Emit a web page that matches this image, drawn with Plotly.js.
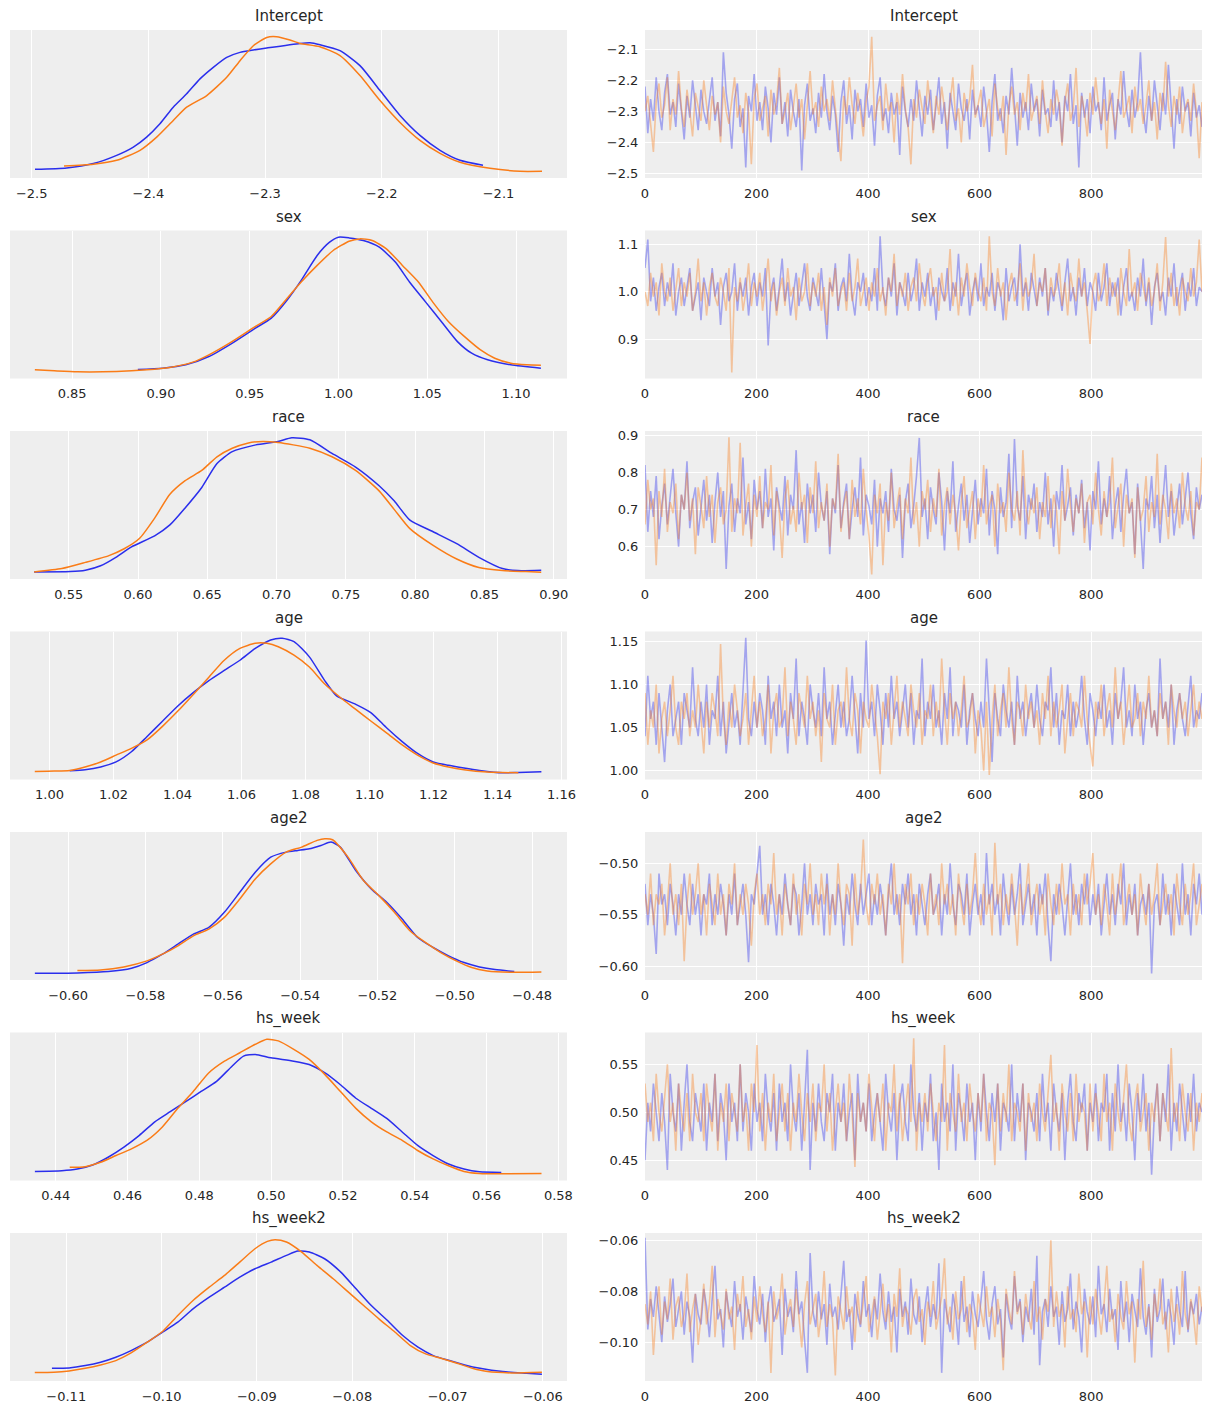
<!DOCTYPE html>
<html>
<head>
<meta charset="utf-8">
<script src="https://cdn.plot.ly/plotly-3.0.1.min.js"></script>
<style>html,body{margin:0;padding:0;background:#fff;}#chart{width:1211px;height:1411px;}</style>
</head>
<body>
<div id="chart"></div>
<script>
// ---------------- DATA ----------------
const params = ["Intercept", "sex", "race", "age", "age2", "hs_week", "hs_week2"];
const nDraws = 1000; // draws per chain (0..999); values below are read at thinned positions

// KDE curves (x, relative density); chain 0 = blue, chain 1 = orange
const interceptKdeX0 = [-2.4972,-2.4700,-2.4472,-2.4272,-2.4129,-2.4015,-2.3901,-2.3787,-2.3672,-2.3558,-2.3444,-2.3329,-2.3215,-2.3101,-2.2986,-2.2701,-2.2615,-2.2530,-2.2358,-2.2187,-2.2015,-2.1844,-2.1673,-2.1501,-2.1330,-2.1133];
const interceptKdeY0 = [6,7.3,11.7,20,28.3,38.3,51.7,68.3,81.7,96.7,108.3,118.3,123.3,125.7,127.7,132.3,133,131,125,110,85,60,40,25,15,10];
const interceptKdeX1 = [-2.4723,-2.4472,-2.4272,-2.4072,-2.3929,-2.3787,-2.3672,-2.3500,-2.3329,-2.3215,-2.3101,-2.2986,-2.2901,-2.2787,-2.2701,-2.2530,-2.2358,-2.2187,-2.2015,-2.1844,-2.1673,-2.1501,-2.1330,-2.1073,-2.0816,-2.0627];
const interceptKdeY1 = [9.3,11,15,25,38.3,55,68.3,80,98.3,115,130,138.3,139,135.7,132.3,129,120,100,75,53,35,22,13,7,4,4];

const sexKdeX0 = [0.887,0.901,0.914,0.927,0.940,0.953,0.962,0.971,0.979,0.988,0.995,1.000,1.006,1.014,1.023,1.032,1.040,1.049,1.058,1.067,1.075,1.084,1.097,1.114];
const sexKdeY0 = [26,30,40,65,105,150,180,235,295,370,410,425,423,415,395,350,290,230,170,110,75,55,40,30];
const sexKdeX1 = [0.829,0.840,0.853,0.875,0.892,0.905,0.918,0.927,0.940,0.953,0.962,0.971,0.979,0.988,0.997,1.006,1.012,1.019,1.027,1.036,1.045,1.053,1.062,1.071,1.080,1.088,1.097,1.106,1.114];
const sexKdeY1 = [25,22,19,20,25,32,48,70,110,155,185,240,290,340,385,413,420,415,390,340,290,230,170,125,85,60,45,40,39];

const raceKdeX0 = [0.525,0.551,0.562,0.573,0.584,0.595,0.612,0.623,0.634,0.646,0.657,0.668,0.685,0.701,0.711,0.724,0.740,0.757,0.774,0.785,0.796,0.813,0.830,0.846,0.863,0.874,0.891];
const raceKdeY0 = [32,33,37,50,75,105,138,170,220,280,350,385,405,415,426,420,380,340,285,240,185,150,115,75,42,36,37];
const raceKdeX1 = [0.525,0.545,0.562,0.579,0.590,0.601,0.612,0.623,0.634,0.646,0.657,0.668,0.679,0.690,0.701,0.712,0.724,0.740,0.757,0.774,0.785,0.796,0.813,0.830,0.846,0.863,0.880,0.891];
const raceKdeY1 = [32,42,60,80,100,130,190,260,300,330,370,395,410,415,412,405,395,370,330,270,215,160,110,70,45,36,33,31];

const ageKdeX0 = [1.0063,1.0111,1.0160,1.0208,1.0256,1.0305,1.0353,1.0401,1.0450,1.0498,1.0546,1.0595,1.0643,1.0691,1.0727,1.0764,1.0812,1.0860,1.0897,1.0957,1.1005,1.1054,1.1102,1.1150,1.1199,1.1247,1.1295,1.1344,1.1416,1.1465,1.1537];
const ageKdeY0 = [34,37,45,60,90,135,180,225,265,300,330,360,395,420,425,415,370,300,255,230,205,160,120,85,60,50,42,35,28,29,31];
const ageKdeX1 = [0.9954,1.0015,1.0063,1.0111,1.0160,1.0208,1.0256,1.0305,1.0353,1.0401,1.0450,1.0498,1.0546,1.0595,1.0643,1.0679,1.0715,1.0764,1.0812,1.0860,1.0909,1.0957,1.1005,1.1054,1.1102,1.1150,1.1199,1.1247,1.1295,1.1368,1.1465];
const ageKdeY1 = [32,33,35,45,60,80,100,125,165,210,260,310,360,395,410,410,400,375,340,290,250,215,180,145,110,80,57,45,37,30,28];

const age2KdeX0 = [-0.6086,-0.5976,-0.5896,-0.5836,-0.5796,-0.5756,-0.5716,-0.5676,-0.5636,-0.5596,-0.5556,-0.5516,-0.5476,-0.5436,-0.5406,-0.5376,-0.5346,-0.5320,-0.5296,-0.5256,-0.5216,-0.5176,-0.5136,-0.5096,-0.5056,-0.5016,-0.4976,-0.4936,-0.4896,-0.4846];
const age2KdeY0 = [23,24,28,38,55,80,110,140,160,205,265,325,370,385,390,395,405,415,400,330,275,235,185,130,100,75,55,42,34,28];
const age2KdeX1 = [-0.5976,-0.5916,-0.5856,-0.5796,-0.5756,-0.5716,-0.5676,-0.5636,-0.5596,-0.5556,-0.5516,-0.5476,-0.5436,-0.5396,-0.5356,-0.5336,-0.5316,-0.5276,-0.5236,-0.5196,-0.5156,-0.5116,-0.5076,-0.5036,-0.4996,-0.4956,-0.4916,-0.4856,-0.4776];
const age2KdeY1 = [31,33,42,60,80,105,135,155,190,245,305,350,385,400,420,425,422,370,300,255,205,150,115,85,60,40,30,26,27];

const hsWeekKdeX0 = [0.4342,0.4417,0.4460,0.4503,0.4546,0.4590,0.4633,0.4676,0.4719,0.4762,0.4805,0.4848,0.4891,0.4923,0.4956,0.4999,0.5063,0.5106,0.5150,0.5193,0.5236,0.5279,0.5322,0.5365,0.5408,0.5451,0.5494,0.5537,0.5580,0.5641];
const hsWeekKdeY0 = [33,35,40,52,75,105,140,180,210,240,270,300,345,375,380,370,360,350,325,290,250,220,190,150,110,80,55,40,32,30];
const hsWeekKdeX1 = [0.4439,0.4482,0.4525,0.4568,0.4611,0.4654,0.4697,0.4740,0.4783,0.4826,0.4870,0.4913,0.4956,0.4988,0.5020,0.5063,0.5106,0.5150,0.5193,0.5236,0.5279,0.5322,0.5365,0.5408,0.5451,0.5494,0.5537,0.5580,0.5645,0.5753];
const hsWeekKdeY1 = [45,47,60,80,100,125,165,220,270,325,360,385,410,425,420,395,365,320,270,220,180,150,125,95,70,50,33,27,26,27];

const hsWeek2KdeX0 = [-0.1115,-0.1097,-0.1080,-0.1064,-0.1048,-0.1032,-0.1015,-0.0999,-0.0983,-0.0967,-0.0950,-0.0934,-0.0918,-0.0902,-0.0885,-0.0869,-0.0857,-0.0845,-0.0829,-0.0812,-0.0796,-0.0780,-0.0763,-0.0747,-0.0731,-0.0715,-0.0698,-0.0682,-0.0666,-0.0642,-0.0617,-0.0601];
const hsWeek2KdeY0 = [42,43,50,60,75,95,120,150,180,220,255,285,315,340,360,380,393,390,370,330,280,230,185,140,105,80,65,52,42,32,27,24];
const hsWeek2KdeX1 = [-0.1133,-0.1113,-0.1097,-0.1080,-0.1064,-0.1048,-0.1032,-0.1015,-0.0999,-0.0983,-0.0967,-0.0950,-0.0934,-0.0918,-0.0902,-0.0889,-0.0881,-0.0869,-0.0853,-0.0837,-0.0820,-0.0804,-0.0788,-0.0772,-0.0755,-0.0739,-0.0723,-0.0707,-0.0690,-0.0674,-0.0658,-0.0633,-0.0601];
const hsWeek2KdeY1 = [29,30,34,42,52,65,88,120,152,200,245,285,320,360,400,422,427,420,390,350,310,270,230,190,150,110,85,72,57,42,32,28,30];

// Trace values (thinned, evenly spaced over draws 0..999); chain 0 = blue, chain 1 = orange
const intercept0 = [-2.22,-2.37,-2.26,-2.33,-2.19,-2.30,-2.36,-2.24,-2.18,-2.31,-2.27,-2.35,-2.21,-2.29,-2.39,-2.25,-2.32,-2.20,-2.28,-2.36,
-2.23,-2.30,-2.34,-2.26,-2.19,-2.33,-2.27,-2.38,-2.11,-2.24,-2.31,-2.42,-2.26,-2.21,-2.35,-2.29,-2.48,-2.25,-2.30,-2.18,
-2.33,-2.27,-2.36,-2.22,-2.29,-2.40,-2.24,-2.31,-2.19,-2.34,-2.27,-2.38,-2.23,-2.30,-2.35,-2.26,-2.49,-2.28,-2.21,-2.33,
-2.29,-2.37,-2.24,-2.32,-2.18,-2.30,-2.36,-2.25,-2.31,-2.43,-2.27,-2.20,-2.34,-2.28,-2.39,-2.23,-2.30,-2.26,-2.35,-2.21,
-2.32,-2.28,-2.41,-2.25,-2.19,-2.33,-2.29,-2.37,-2.24,-2.31,-2.27,-2.44,-2.22,-2.30,-2.35,-2.26,-2.33,-2.20,-2.29,-2.38,
-2.25,-2.31,-2.23,-2.36,-2.28,-2.19,-2.34,-2.27,-2.42,-2.24,-2.30,-2.36,-2.21,-2.29,-2.33,-2.26,-2.39,-2.23,-2.31,-2.28,
-2.35,-2.22,-2.30,-2.43,-2.27,-2.18,-2.33,-2.29,-2.37,-2.25,-2.31,-2.16,-2.28,-2.41,-2.24,-2.32,-2.27,-2.36,-2.21,-2.30,
-2.26,-2.38,-2.23,-2.31,-2.29,-2.35,-2.20,-2.33,-2.27,-2.40,-2.25,-2.30,-2.18,-2.34,-2.28,-2.48,-2.24,-2.32,-2.26,-2.37,
-2.22,-2.30,-2.27,-2.36,-2.19,-2.33,-2.28,-2.24,-2.39,-2.26,-2.31,-2.17,-2.29,-2.35,-2.23,-2.32,-2.27,-2.11,-2.30,-2.37,
-2.25,-2.33,-2.20,-2.28,-2.36,-2.24,-2.31,-2.15,-2.29,-2.42,-2.26,-2.34,-2.22,-2.30,-2.27,-2.38,-2.24,-2.32,-2.28,-2.35];
const intercept1 = [-2.30,-2.25,-2.34,-2.43,-2.27,-2.21,-2.32,-2.28,-2.19,-2.36,-2.26,-2.31,-2.17,-2.29,-2.35,-2.23,-2.30,-2.38,-2.24,-2.28,
-2.33,-2.20,-2.29,-2.36,-2.25,-2.31,-2.27,-2.40,-2.22,-2.30,-2.34,-2.26,-2.19,-2.32,-2.28,-2.37,-2.24,-2.30,-2.47,-2.26,
-2.21,-2.33,-2.29,-2.25,-2.38,-2.23,-2.31,-2.27,-2.16,-2.34,-2.30,-2.24,-2.36,-2.28,-2.21,-2.32,-2.26,-2.39,-2.29,-2.17,
-2.31,-2.27,-2.35,-2.22,-2.30,-2.26,-2.33,-2.20,-2.29,-2.37,-2.46,-2.25,-2.31,-2.19,-2.28,-2.34,-2.24,-2.30,-2.38,-2.27,
-2.22,-2.06,-2.33,-2.28,-2.25,-2.36,-2.21,-2.30,-2.27,-2.40,-2.24,-2.31,-2.18,-2.29,-2.35,-2.47,-2.26,-2.32,-2.23,-2.29,
-2.34,-2.20,-2.28,-2.37,-2.25,-2.31,-2.22,-2.30,-2.36,-2.27,-2.19,-2.33,-2.29,-2.40,-2.24,-2.30,-2.26,-2.15,-2.32,-2.28,
-2.23,-2.35,-2.30,-2.26,-2.38,-2.21,-2.29,-2.33,-2.25,-2.44,-2.28,-2.22,-2.31,-2.27,-2.36,-2.24,-2.30,-2.18,-2.33,-2.29,
-2.25,-2.34,-2.20,-2.30,-2.37,-2.26,-2.31,-2.23,-2.28,-2.41,-2.27,-2.21,-2.33,-2.29,-2.16,-2.35,-2.25,-2.30,-2.38,-2.24,
-2.31,-2.19,-2.28,-2.34,-2.26,-2.42,-2.23,-2.30,-2.36,-2.27,-2.17,-2.32,-2.29,-2.25,-2.37,-2.22,-2.30,-2.26,-2.34,-2.28,
-2.20,-2.33,-2.27,-2.39,-2.24,-2.30,-2.14,-2.28,-2.35,-2.25,-2.31,-2.22,-2.37,-2.29,-2.26,-2.33,-2.21,-2.30,-2.45,-2.27];

const sex0 = [1.05,1.11,0.98,1.03,0.96,1.01,1.04,0.97,1.02,0.99,1.06,0.95,1.00,1.03,0.97,1.01,1.05,0.96,0.99,1.02,
0.94,1.03,1.00,0.97,1.05,0.99,1.02,0.93,1.01,1.04,0.98,1.00,1.06,0.96,1.02,0.99,1.03,0.95,1.01,1.04,
0.97,1.02,0.99,1.05,0.887,1.00,1.03,0.96,1.01,1.07,0.98,1.02,0.95,1.00,1.04,0.97,1.01,1.06,0.99,0.96,
1.03,1.00,0.97,1.05,0.98,0.90,1.02,1.00,1.06,0.96,1.01,1.03,0.98,1.08,0.99,0.95,1.02,1.00,1.04,0.97,
1.01,0.98,1.05,0.96,1.117,1.00,0.97,1.03,0.99,1.06,0.95,1.02,1.00,0.97,1.04,0.98,1.01,1.07,0.96,1.02,
0.99,1.04,0.97,1.01,0.94,1.03,1.00,0.98,1.05,0.96,1.02,0.99,1.08,0.97,1.01,1.04,0.95,1.00,1.03,0.98,
1.06,0.97,1.01,0.99,1.04,0.96,1.02,1.00,0.94,1.05,0.98,1.01,1.03,0.97,1.10,0.99,1.02,0.96,1.04,1.00,
0.97,1.03,0.99,1.05,0.95,1.01,0.98,1.04,1.00,0.96,1.02,1.07,0.98,1.01,0.95,1.03,0.99,1.05,0.97,1.02,
1.00,0.96,1.04,0.98,1.01,1.06,0.97,1.02,0.99,1.03,0.95,1.01,1.05,0.98,1.00,0.96,1.03,0.99,1.07,0.97,
1.02,0.93,1.01,1.04,0.98,1.00,0.95,1.03,0.99,1.06,0.97,1.01,1.04,0.96,1.02,0.99,1.05,0.97,1.01,1.00];
const sex1 = [1.00,0.97,1.04,0.99,1.02,0.95,1.06,1.00,0.98,1.03,0.96,1.01,1.05,0.97,1.02,0.99,1.04,0.96,1.00,1.07,
0.98,1.02,0.95,1.01,1.04,0.99,0.97,1.03,1.00,0.96,1.05,0.83,1.01,0.98,1.03,0.96,1.00,1.06,0.97,1.02,
0.99,1.04,0.96,1.01,1.07,0.98,1.02,0.95,1.00,1.03,0.97,1.05,0.99,1.01,0.94,1.03,0.98,1.00,1.06,0.97,
1.02,0.99,1.04,0.96,1.01,0.93,1.03,0.99,1.05,0.97,1.00,1.02,0.96,1.04,0.98,1.01,1.07,0.97,1.00,1.03,
0.96,1.02,0.99,1.05,0.98,1.01,0.95,1.03,1.00,1.08,0.97,1.02,0.99,1.04,0.96,1.01,1.03,0.98,1.06,1.00,
0.97,1.02,1.05,0.99,1.01,0.96,1.04,0.98,1.00,1.09,0.97,1.02,0.95,1.03,0.99,1.06,1.01,0.97,1.04,1.00,
0.98,1.03,0.96,1.117,1.00,0.97,1.05,0.99,1.02,0.94,1.01,1.04,0.98,1.00,1.06,0.96,1.03,0.99,1.01,1.08,
0.97,1.02,1.00,1.05,0.96,1.03,0.99,1.01,1.06,0.97,1.02,0.95,1.04,1.00,0.98,1.07,0.99,1.02,0.96,0.89,
1.01,1.04,0.98,1.00,1.06,0.97,1.03,0.99,1.02,0.95,1.05,1.00,0.97,1.09,0.99,1.02,0.96,1.04,1.01,0.98,
1.03,0.97,1.00,1.06,0.96,1.02,1.115,0.99,1.04,0.97,1.01,0.95,1.03,1.00,0.98,1.05,0.99,1.02,1.11,1.00];

const race0 = [0.82,0.64,0.75,0.68,0.79,0.62,0.71,0.77,0.66,0.73,0.81,0.69,0.60,0.74,0.70,0.83,0.65,0.72,0.76,0.63,
0.70,0.78,0.67,0.74,0.61,0.72,0.80,0.68,0.75,0.54,0.71,0.77,0.64,0.73,0.69,0.84,0.66,0.72,0.62,0.78,
0.70,0.75,0.65,0.81,0.68,0.73,0.59,0.76,0.71,0.67,0.79,0.63,0.74,0.70,0.86,0.66,0.72,0.61,0.77,0.69,
0.74,0.64,0.80,0.71,0.67,0.75,0.58,0.73,0.69,0.82,0.65,0.72,0.77,0.62,0.70,0.76,0.68,0.84,0.63,0.74,
0.71,0.66,0.78,0.60,0.73,0.69,0.75,0.64,0.81,0.70,0.67,0.74,0.57,0.72,0.77,0.65,0.71,0.79,0.893,0.68,
0.73,0.62,0.76,0.70,0.66,0.80,0.72,0.59,0.75,0.69,0.83,0.64,0.71,0.77,0.67,0.74,0.61,0.70,0.78,0.66,
0.73,0.69,0.81,0.63,0.75,0.70,0.58,0.76,0.68,0.72,0.85,0.65,0.89,0.71,0.67,0.79,0.62,0.74,0.70,0.77,
0.64,0.72,0.68,0.80,0.66,0.73,0.60,0.75,0.70,0.82,0.67,0.71,0.76,0.63,0.74,0.69,0.78,0.65,0.72,0.59,
0.75,0.70,0.83,0.66,0.73,0.68,0.79,0.62,0.71,0.76,0.64,0.74,0.81,0.69,0.72,0.58,0.77,0.67,0.54,0.73,
0.70,0.79,0.65,0.74,0.61,0.72,0.82,0.68,0.75,0.63,0.71,0.77,0.66,0.73,0.80,0.69,0.62,0.76,0.70,0.74];
const race1 = [0.66,0.78,0.70,0.73,0.55,0.75,0.68,0.81,0.64,0.72,0.69,0.77,0.62,0.74,0.70,0.80,0.67,0.73,0.58,0.76,
0.71,0.65,0.79,0.68,0.74,0.61,0.72,0.76,0.66,0.70,0.895,0.64,0.73,0.69,0.88,0.63,0.71,0.77,0.60,0.74,
0.68,0.79,0.65,0.72,0.70,0.82,0.63,0.75,0.69,0.57,0.73,0.78,0.66,0.71,0.64,0.80,0.70,0.74,0.61,0.76,
0.69,0.83,0.65,0.72,0.67,0.77,0.60,0.73,0.70,0.85,0.64,0.71,0.75,0.62,0.78,0.68,0.73,0.66,0.81,0.70,
0.63,0.525,0.74,0.69,0.77,0.55,0.72,0.67,0.80,0.65,0.71,0.76,0.62,0.73,0.69,0.84,0.66,0.72,0.60,0.75,
0.70,0.78,0.64,0.73,0.68,0.81,0.63,0.71,0.76,0.66,0.74,0.69,0.59,0.72,0.79,0.65,0.70,0.75,0.62,0.73,
0.68,0.82,0.66,0.71,0.74,0.60,0.77,0.69,0.72,0.64,0.80,0.70,0.67,0.75,0.63,0.86,0.71,0.66,0.73,0.69,
0.76,0.62,0.72,0.68,0.79,0.65,0.74,0.70,0.58,0.75,0.67,0.81,0.71,0.64,0.73,0.69,0.77,0.61,0.72,0.74,
0.66,0.80,0.70,0.63,0.75,0.68,0.72,0.84,0.65,0.71,0.77,0.60,0.74,0.69,0.73,0.57,0.76,0.67,0.70,0.79,
0.64,0.72,0.68,0.85,0.66,0.74,0.70,0.62,0.77,0.69,0.73,0.65,0.80,0.71,0.67,0.75,0.63,0.72,0.70,0.84];

const age0 = [1.04,1.11,1.06,1.08,1.03,1.09,1.05,1.01,1.07,1.10,1.04,1.06,1.08,1.03,1.09,1.07,1.05,1.12,1.06,1.04,
1.08,1.05,1.10,1.03,1.07,1.06,1.11,1.04,1.08,1.02,1.06,1.09,1.05,1.07,1.03,1.10,1.154,1.06,1.04,1.08,
1.05,1.09,1.07,1.03,1.11,1.06,1.08,1.04,1.10,1.05,1.07,1.02,1.09,1.06,1.13,1.04,1.08,1.06,1.03,1.10,
1.07,1.05,1.09,1.04,1.12,1.06,1.08,1.03,1.07,1.10,1.05,1.08,1.04,1.06,1.11,1.07,1.02,1.09,1.05,1.151,
1.06,1.08,1.04,1.10,1.07,1.03,1.09,1.05,1.11,1.06,1.08,1.04,1.07,1.10,1.05,1.09,1.03,1.07,1.06,1.13,
1.04,1.08,1.06,1.10,1.05,1.07,1.03,1.09,1.06,1.12,1.04,1.08,1.07,1.05,1.10,1.03,1.07,1.09,1.06,1.04,
1.08,1.05,1.13,1.07,1.01,1.09,1.06,1.04,1.10,1.07,1.05,1.08,1.03,1.11,1.06,1.08,1.04,1.07,1.09,1.05,
1.10,1.06,1.04,1.08,1.07,1.12,1.05,1.09,1.03,1.07,1.06,1.10,1.04,1.08,1.05,1.07,1.11,1.06,1.03,1.09,
1.07,1.04,1.08,1.06,1.10,1.05,1.07,1.03,1.09,1.06,1.08,1.12,1.05,1.07,1.04,1.10,1.06,1.08,1.03,1.07,
1.09,1.05,1.07,1.04,1.13,1.06,1.08,1.05,1.10,1.03,1.07,1.09,1.06,1.04,1.08,1.11,1.05,1.07,1.06,1.09];
const age1 = [1.09,1.03,1.07,1.05,1.10,1.02,1.06,1.08,1.04,1.07,1.11,1.05,1.03,1.08,1.06,1.09,1.04,1.07,1.05,1.10,
1.06,1.02,1.08,1.05,1.09,1.07,1.04,1.147,1.06,1.03,1.08,1.05,1.10,1.07,1.04,1.06,1.09,1.03,1.07,1.11,
1.05,1.08,1.04,1.06,1.10,1.02,1.07,1.09,1.05,1.06,1.12,1.04,1.08,1.06,1.03,1.09,1.07,1.05,1.11,1.06,
1.08,1.04,1.07,1.01,1.09,1.06,1.05,1.10,1.03,1.07,1.08,1.05,1.12,1.06,1.04,1.09,1.07,1.02,1.08,1.06,
1.05,1.10,1.07,1.04,0.996,1.08,1.06,1.09,1.03,1.07,1.11,1.05,1.08,1.06,1.04,1.10,1.07,1.05,1.09,1.03,
1.07,1.06,1.10,1.04,1.08,1.05,1.13,1.07,1.03,1.09,1.06,1.08,1.04,1.07,1.11,1.05,1.06,1.09,1.02,1.07,
1.05,1.00,1.08,0.995,1.06,1.10,1.04,1.07,1.09,1.05,1.12,1.06,1.03,1.08,1.07,1.04,1.10,1.06,1.08,1.05,
1.07,1.03,1.09,1.06,1.11,1.04,1.08,1.05,1.07,1.10,1.02,1.06,1.09,1.04,1.08,1.07,1.05,1.11,1.06,1.03,
1.005,1.08,1.06,1.10,1.04,1.07,1.09,1.05,1.12,1.06,1.08,1.03,1.07,1.10,1.05,1.06,1.09,1.04,1.08,1.06,
1.11,1.05,1.07,1.04,1.09,1.06,1.08,1.03,1.10,1.07,1.05,1.09,1.06,1.08,1.04,1.07,1.10,1.05,1.08,1.06];

const age2_0 = [-0.52,-0.56,-0.53,-0.55,-0.588,-0.51,-0.54,-0.53,-0.56,-0.52,-0.54,-0.57,-0.53,-0.55,-0.51,-0.54,-0.56,-0.52,-0.55,-0.53,
-0.57,-0.53,-0.54,-0.51,-0.56,-0.53,-0.55,-0.52,-0.54,-0.57,-0.53,-0.55,-0.51,-0.56,-0.54,-0.52,-0.55,-0.596,-0.53,-0.54,
-0.51,-0.483,-0.55,-0.53,-0.56,-0.52,-0.54,-0.57,-0.53,-0.55,-0.51,-0.54,-0.56,-0.52,-0.53,-0.57,-0.54,-0.50,-0.55,-0.53,
-0.56,-0.52,-0.54,-0.53,-0.57,-0.51,-0.55,-0.53,-0.56,-0.52,-0.54,-0.58,-0.53,-0.55,-0.51,-0.54,-0.56,-0.52,-0.55,-0.53,
-0.51,-0.56,-0.53,-0.55,-0.52,-0.54,-0.57,-0.53,-0.50,-0.55,-0.53,-0.56,-0.52,-0.54,-0.51,-0.55,-0.53,-0.57,-0.52,-0.54,
-0.56,-0.53,-0.51,-0.55,-0.54,-0.52,-0.57,-0.53,-0.55,-0.50,-0.54,-0.56,-0.52,-0.53,-0.55,-0.51,-0.57,-0.54,-0.52,-0.55,
-0.53,-0.56,-0.49,-0.54,-0.52,-0.55,-0.53,-0.57,-0.51,-0.54,-0.56,-0.52,-0.55,-0.53,-0.50,-0.56,-0.54,-0.52,-0.55,-0.53,
-0.57,-0.52,-0.54,-0.51,-0.56,-0.595,-0.53,-0.55,-0.52,-0.54,-0.57,-0.53,-0.50,-0.55,-0.53,-0.56,-0.52,-0.54,-0.51,-0.56,
-0.53,-0.55,-0.52,-0.57,-0.54,-0.51,-0.55,-0.53,-0.56,-0.52,-0.54,-0.50,-0.56,-0.53,-0.55,-0.52,-0.57,-0.54,-0.53,-0.55,
-0.52,-0.607,-0.54,-0.53,-0.56,-0.51,-0.55,-0.53,-0.57,-0.52,-0.54,-0.56,-0.50,-0.55,-0.53,-0.57,-0.52,-0.54,-0.51,-0.55];
const age2_1 = [-0.53,-0.55,-0.51,-0.56,-0.53,-0.54,-0.52,-0.57,-0.54,-0.50,-0.55,-0.53,-0.56,-0.52,-0.595,-0.54,-0.51,-0.55,-0.53,-0.50,
-0.55,-0.53,-0.57,-0.52,-0.54,-0.56,-0.51,-0.55,-0.53,-0.57,-0.52,-0.54,-0.50,-0.56,-0.53,-0.55,-0.52,-0.54,-0.58,-0.53,
-0.51,-0.55,-0.53,-0.56,-0.52,-0.54,-0.49,-0.55,-0.53,-0.57,-0.52,-0.54,-0.56,-0.51,-0.55,-0.53,-0.57,-0.52,-0.54,-0.50,
-0.55,-0.53,-0.56,-0.51,-0.54,-0.52,-0.57,-0.53,-0.55,-0.50,-0.54,-0.56,-0.52,-0.53,-0.58,-0.51,-0.55,-0.53,-0.477,-0.54,
-0.56,-0.52,-0.54,-0.51,-0.55,-0.53,-0.57,-0.52,-0.54,-0.50,-0.55,-0.53,-0.597,-0.52,-0.54,-0.51,-0.56,-0.53,-0.55,-0.52,
-0.54,-0.57,-0.51,-0.55,-0.53,-0.56,-0.50,-0.54,-0.52,-0.55,-0.53,-0.57,-0.51,-0.54,-0.56,-0.52,-0.55,-0.53,-0.49,-0.54,
-0.56,-0.52,-0.55,-0.53,-0.57,-0.48,-0.54,-0.52,-0.56,-0.53,-0.55,-0.51,-0.54,-0.58,-0.52,-0.55,-0.53,-0.50,-0.56,-0.54,
-0.52,-0.55,-0.53,-0.57,-0.51,-0.54,-0.56,-0.52,-0.55,-0.50,-0.54,-0.53,-0.57,-0.52,-0.55,-0.53,-0.56,-0.51,-0.54,-0.52,
-0.49,-0.55,-0.53,-0.56,-0.52,-0.54,-0.57,-0.51,-0.55,-0.53,-0.50,-0.56,-0.54,-0.52,-0.55,-0.53,-0.57,-0.51,-0.54,-0.56,
-0.52,-0.55,-0.53,-0.50,-0.56,-0.54,-0.52,-0.55,-0.53,-0.57,-0.51,-0.54,-0.56,-0.52,-0.55,-0.53,-0.50,-0.56,-0.54,-0.52];

const hsWeek0 = [0.45,0.51,0.48,0.53,0.50,0.47,0.52,0.49,0.44,0.54,0.50,0.48,0.53,0.46,0.51,0.55,0.49,0.47,0.52,0.50,
0.48,0.53,0.46,0.51,0.49,0.54,0.47,0.52,0.50,0.45,0.53,0.49,0.51,0.47,0.55,0.48,0.52,0.50,0.46,0.53,
0.49,0.51,0.47,0.54,0.50,0.48,0.52,0.46,0.53,0.49,0.51,0.47,0.55,0.50,0.48,0.52,0.46,0.51,0.565,0.44,
0.51,0.48,0.53,0.49,0.47,0.52,0.50,0.54,0.46,0.51,0.49,0.53,0.47,0.50,0.52,0.45,0.54,0.49,0.51,0.48,
0.53,0.47,0.50,0.52,0.49,0.46,0.54,0.50,0.48,0.52,0.45,0.51,0.53,0.49,0.47,0.55,0.50,0.48,0.52,0.46,
0.51,0.49,0.54,0.47,0.50,0.44,0.53,0.49,0.51,0.48,0.55,0.46,0.52,0.50,0.47,0.53,0.49,0.51,0.45,0.52,
0.48,0.54,0.50,0.47,0.52,0.49,0.53,0.46,0.51,0.50,0.48,0.55,0.47,0.52,0.49,0.53,0.45,0.51,0.50,0.48,
0.52,0.47,0.54,0.49,0.51,0.46,0.53,0.50,0.48,0.52,0.45,0.51,0.54,0.49,0.47,0.52,0.50,0.53,0.46,0.51,
0.49,0.53,0.47,0.51,0.50,0.54,0.46,0.52,0.48,0.55,0.49,0.51,0.47,0.53,0.50,0.45,0.52,0.49,0.54,0.48,
0.51,0.435,0.50,0.53,0.47,0.52,0.49,0.55,0.46,0.51,0.48,0.53,0.50,0.47,0.52,0.49,0.54,0.48,0.51,0.50];
const hsWeek1 = [0.53,0.49,0.51,0.47,0.54,0.50,0.48,0.52,0.55,0.49,0.51,0.46,0.53,0.50,0.48,0.52,0.47,0.54,0.50,0.49,
0.52,0.47,0.53,0.50,0.48,0.54,0.46,0.51,0.49,0.53,0.47,0.52,0.50,0.48,0.55,0.49,0.51,0.46,0.53,0.50,
0.57,0.48,0.52,0.46,0.51,0.49,0.54,0.47,0.50,0.53,0.48,0.52,0.46,0.51,0.49,0.54,0.50,0.47,0.52,0.49,
0.53,0.47,0.51,0.50,0.55,0.48,0.52,0.46,0.50,0.53,0.49,0.51,0.47,0.54,0.50,0.443,0.52,0.49,0.51,0.48,
0.54,0.50,0.47,0.52,0.49,0.53,0.46,0.51,0.50,0.55,0.48,0.52,0.47,0.50,0.53,0.49,0.577,0.46,0.51,0.49,
0.52,0.48,0.53,0.50,0.47,0.51,0.49,0.57,0.46,0.52,0.50,0.48,0.54,0.49,0.51,0.47,0.53,0.50,0.48,0.52,
0.49,0.54,0.47,0.51,0.50,0.445,0.53,0.48,0.52,0.49,0.55,0.47,0.51,0.50,0.48,0.53,0.46,0.52,0.49,0.51,
0.47,0.53,0.50,0.48,0.52,0.56,0.49,0.51,0.46,0.53,0.50,0.48,0.52,0.47,0.54,0.49,0.51,0.50,0.46,0.53,
0.48,0.52,0.50,0.47,0.54,0.49,0.51,0.46,0.53,0.50,0.48,0.52,0.55,0.49,0.47,0.51,0.53,0.48,0.50,0.52,
0.46,0.51,0.49,0.53,0.47,0.52,0.50,0.48,0.567,0.49,0.51,0.47,0.53,0.50,0.48,0.52,0.46,0.51,0.49,0.52];

const hsWeek2_0 = [-0.059,-0.095,-0.083,-0.090,-0.078,-0.088,-0.100,-0.082,-0.092,-0.085,-0.075,-0.094,-0.087,-0.080,-0.097,-0.084,-0.090,-0.108,-0.081,-0.089,
-0.093,-0.079,-0.086,-0.098,-0.083,-0.070,-0.091,-0.087,-0.102,-0.080,-0.088,-0.094,-0.076,-0.090,-0.085,-0.099,-0.082,-0.089,-0.096,-0.074,
-0.087,-0.093,-0.081,-0.100,-0.085,-0.078,-0.092,-0.088,-0.083,-0.105,-0.079,-0.090,-0.086,-0.096,-0.072,-0.089,-0.084,-0.099,-0.112,-0.065,
-0.088,-0.094,-0.080,-0.091,-0.085,-0.101,-0.077,-0.090,-0.086,-0.095,-0.082,-0.068,-0.092,-0.087,-0.103,-0.081,-0.089,-0.094,-0.076,-0.090,
-0.085,-0.098,-0.083,-0.091,-0.073,-0.088,-0.095,-0.080,-0.092,-0.086,-0.104,-0.079,-0.090,-0.084,-0.097,-0.075,-0.089,-0.093,-0.082,-0.100,
-0.087,-0.078,-0.094,-0.085,-0.091,-0.069,-0.112,-0.083,-0.090,-0.096,-0.081,-0.088,-0.101,-0.076,-0.092,-0.086,-0.098,-0.080,-0.089,-0.094,
-0.084,-0.072,-0.091,-0.099,-0.085,-0.078,-0.093,-0.087,-0.106,-0.081,-0.090,-0.095,-0.074,-0.088,-0.083,-0.100,-0.086,-0.092,-0.079,-0.097,
-0.066,-0.109,-0.088,-0.083,-0.094,-0.078,-0.090,-0.086,-0.101,-0.080,-0.092,-0.087,-0.073,-0.095,-0.084,-0.090,-0.104,-0.079,-0.088,-0.093,
-0.082,-0.098,-0.070,-0.089,-0.085,-0.096,-0.079,-0.091,-0.087,-0.103,-0.076,-0.092,-0.084,-0.100,-0.081,-0.088,-0.094,-0.071,-0.090,-0.097,
-0.085,-0.106,-0.079,-0.092,-0.087,-0.075,-0.095,-0.083,-0.090,-0.101,-0.078,-0.088,-0.094,-0.072,-0.096,-0.084,-0.089,-0.081,-0.093,-0.086];
const hsWeek2_1 = [-0.085,-0.093,-0.080,-0.105,-0.088,-0.078,-0.097,-0.084,-0.091,-0.075,-0.099,-0.086,-0.082,-0.094,-0.089,-0.073,-0.096,-0.087,-0.081,-0.101,
-0.090,-0.077,-0.093,-0.085,-0.070,-0.098,-0.083,-0.089,-0.095,-0.079,-0.091,-0.086,-0.103,-0.081,-0.088,-0.074,-0.094,-0.087,-0.099,-0.082,
-0.092,-0.078,-0.089,-0.096,-0.084,-0.112,-0.080,-0.091,-0.086,-0.073,-0.097,-0.088,-0.083,-0.094,-0.079,-0.090,-0.102,-0.085,-0.076,-0.093,
-0.087,-0.081,-0.098,-0.089,-0.072,-0.094,-0.085,-0.091,-0.113,-0.082,-0.088,-0.095,-0.078,-0.090,-0.086,-0.100,-0.080,-0.093,-0.084,-0.074,
-0.096,-0.088,-0.082,-0.099,-0.087,-0.077,-0.092,-0.085,-0.104,-0.081,-0.090,-0.071,-0.094,-0.086,-0.089,-0.097,-0.083,-0.079,-0.092,-0.087,
-0.101,-0.084,-0.090,-0.076,-0.095,-0.088,-0.082,-0.067,-0.093,-0.086,-0.099,-0.080,-0.091,-0.087,-0.074,-0.096,-0.085,-0.089,-0.103,-0.081,
-0.088,-0.094,-0.078,-0.090,-0.086,-0.098,-0.083,-0.091,-0.111,-0.079,-0.087,-0.093,-0.072,-0.089,-0.084,-0.097,-0.081,-0.090,-0.095,-0.076,
-0.092,-0.086,-0.099,-0.083,-0.088,-0.060,-0.094,-0.080,-0.090,-0.085,-0.102,-0.078,-0.091,-0.087,-0.096,-0.073,-0.089,-0.084,-0.106,-0.082,
-0.093,-0.079,-0.088,-0.097,-0.085,-0.070,-0.092,-0.087,-0.100,-0.081,-0.090,-0.095,-0.076,-0.089,-0.084,-0.108,-0.083,-0.091,-0.068,-0.094,
-0.086,-0.099,-0.081,-0.090,-0.075,-0.093,-0.088,-0.104,-0.079,-0.092,-0.085,-0.097,-0.072,-0.089,-0.095,-0.083,-0.090,-0.101,-0.078,-0.088];

// ---------------- ASSEMBLY ----------------
const kdeSets = [
  [interceptKdeX0, interceptKdeY0, interceptKdeX1, interceptKdeY1],
  [sexKdeX0, sexKdeY0, sexKdeX1, sexKdeY1],
  [raceKdeX0, raceKdeY0, raceKdeX1, raceKdeY1],
  [ageKdeX0, ageKdeY0, ageKdeX1, ageKdeY1],
  [age2KdeX0, age2KdeY0, age2KdeX1, age2KdeY1],
  [hsWeekKdeX0, hsWeekKdeY0, hsWeekKdeX1, hsWeekKdeY1],
  [hsWeek2KdeX0, hsWeek2KdeY0, hsWeek2KdeX1, hsWeek2KdeY1]
];
const traceSets = [
  [intercept0, intercept1], [sex0, sex1], [race0, race1], [age0, age1],
  [age2_0, age2_1], [hsWeek0, hsWeek1], [hsWeek2_0, hsWeek2_1]
];

// axis view settings (styling)
const leftRanges = [[-2.5186,-2.0413],[0.815,1.1287],[0.5076,0.9096],[0.98766,1.1617],[-0.61503,-0.47097],[0.42727,0.5824],[-0.1159,-0.05747]];
const leftTicks  = [[0.1,'.1f'],[0.05,'.2f'],[0.05,'.2f'],[0.02,'.2f'],[0.02,'.2f'],[0.02,'.2f'],[0.01,'.2f']];
const rightRanges = [[-2.514,-2.038],[0.8175,1.129],[0.513,0.9116],[0.9898,1.1614],[-0.6133,-0.4696],[0.429,0.5831],[-0.1152,-0.0571]];
const rightTicks  = [[0.1,'.1f'],[0.1,'.1f'],[0.1,'.1f'],[0.05,'.2f'],[0.05,'.2f'],[0.05,'.2f'],[0.02,'.2f']];

const W = 1211, H = 1411;
const colors = ['#2a2eec', '#fa7c17'];
const font = {family: 'DejaVu Sans, Liberation Sans, sans-serif', size: 13, color: '#262626'};
const baseAxis = {
  showline: false, zeroline: false, showgrid: true, gridcolor: '#ffffff', gridwidth: 1,
  ticks: 'outside', ticklen: 3, tickcolor: 'rgba(0,0,0,0)', tickfont: font, fixedrange: true
};

const data = [];
const layout = {
  width: W, height: H, margin: {l: 0, r: 0, t: 0, b: 0},
  paper_bgcolor: '#ffffff', plot_bgcolor: '#eeeeee', showlegend: false,
  font: font, annotations: []
};

const leftDom = [10 / W, 567 / W];
const rightDom = [645 / W, 1202 / W];

params.forEach((name, k) => {
  const top = 30 + 200.5 * k, bottom = top + 148;
  const yDom = [1 - bottom / H, 1 - top / H];
  const li = 2 * k + 1, ri = 2 * k + 2;
  const lx = 'x' + li, ly = 'y' + li, rx = 'x' + ri, ry = 'y' + ri;

  // KDE panel
  const kd = kdeSets[k];
  const allY = kd[1].concat(kd[3]);
  const ymin = Math.min(...allY), ymax = Math.max(...allY), pad = (ymax - ymin) * 0.05;
  for (let c = 0; c < 2; c++) {
    data.push({type: 'scatter', mode: 'lines', x: kd[2 * c], y: kd[2 * c + 1], xaxis: lx, yaxis: ly,
      line: {color: colors[c], width: 1.5, shape: 'spline', smoothing: 0.6}, hoverinfo: 'skip'});
  }
  layout['xaxis' + li] = Object.assign({}, baseAxis, {domain: leftDom, anchor: ly, range: leftRanges[k],
    tick0: 0, dtick: leftTicks[k][0], tickformat: leftTicks[k][1]});
  layout['yaxis' + li] = Object.assign({}, baseAxis, {domain: yDom, anchor: lx, range: [ymin - pad, ymax + pad],
    showticklabels: false, showgrid: false, ticks: ''});

  // Trace panel
  const tr = traceSets[k];
  for (let c = 0; c < 2; c++) {
    const vals = tr[c];
    const draws = vals.map((v, i) => i * (nDraws - 1) / (vals.length - 1));
    data.push({type: 'scatter', mode: 'lines', x: draws, y: vals, xaxis: rx, yaxis: ry,
      opacity: 0.38, line: {color: colors[c], width: 1.6}, hoverinfo: 'skip'});
  }
  layout['xaxis' + ri] = Object.assign({}, baseAxis, {domain: rightDom, anchor: ry, range: [0, nDraws - 1],
    tick0: 0, dtick: 200});
  layout['yaxis' + ri] = Object.assign({}, baseAxis, {domain: yDom, anchor: rx, range: rightRanges[k],
    tick0: 0, dtick: rightTicks[k][0], tickformat: rightTicks[k][1]});

  // titles
  [leftDom, rightDom].forEach(dom => {
    layout.annotations.push({text: name, xref: 'paper', yref: 'paper', x: (dom[0] + dom[1]) / 2, y: yDom[1],
      xanchor: 'center', yanchor: 'bottom', yshift: 3, showarrow: false,
      font: {family: font.family, size: 15, color: '#262626'}});
  });
});

Plotly.newPlot('chart', data, layout, {displayModeBar: false, staticPlot: true});
</script>
</body>
</html>
